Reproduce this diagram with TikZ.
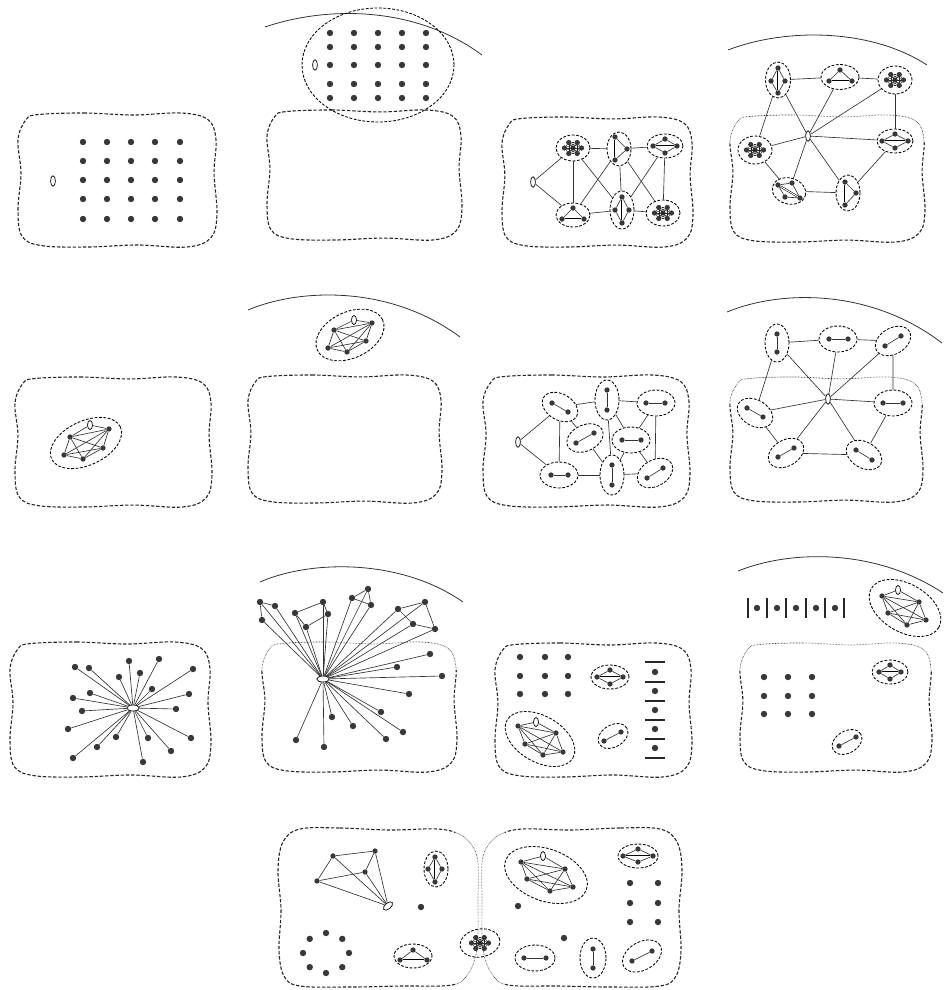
\documentclass[tikz,border=0pt]{standalone}
\usetikzlibrary{shapes.geometric}
\tikzset{
 dot/.style={circle, fill=black!78, inner sep=0pt, minimum size=6.4pt},
 tdot/.style={circle, fill=black!78, inner sep=0pt, minimum size=5.3pt},
 ov/.style={ellipse, draw, line width=0.7pt, fill=white, inner sep=0pt, minimum width=4.8pt, minimum height=10.5pt},
 ovs/.style={ellipse, draw, line width=0.7pt, fill=white, inner sep=0pt, minimum width=5pt, minimum height=9pt},
 ovh/.style={ellipse, draw, line width=0.7pt, fill=white, inner sep=0pt, minimum width=12.5pt, minimum height=6pt},
 grp/.style={ellipse, draw, dash pattern=on 2.8pt off 1.6pt, line width=0.85pt, inner sep=0pt},
 blobline/.style={line width=1.1pt, black!85, dash pattern=on 3.4pt off 1.8pt},
 dotline/.style={line width=0.7pt, black!75, dash pattern=on 0.6pt off 0.9pt},
 arcline/.style={line width=0.8pt, black!80},
 ed/.style={line width=0.65pt, black!80},
 ted/.style={line width=0.45pt, black!85},
 dbl/.style={line width=0.55pt, double=white, double distance=0.9pt},
 hbar/.style={rectangle, fill=black!85, inner sep=0pt, minimum width=20pt, minimum height=2.6pt},
 vbar/.style={rectangle, fill=black!85, inner sep=0pt, minimum width=2.6pt, minimum height=20pt},
}
\newcommand\blobdraw[5]{%
\pgfmathsetmacro\bx{#1}\pgfmathsetmacro\by{#2}\pgfmathsetmacro\bw{#3-#1}\pgfmathsetmacro\bh{#4-#2}%
\draw[#5] plot[smooth cycle, tension=0.6] coordinates {
({\bx+0.10*\bw},{\by+0.012*\bh}) ({\bx+0.33*\bw},{\by}) ({\bx+0.58*\bw},{\by+0.015*\bh}) ({\bx+0.82*\bw},{\by})
({\bx+0.955*\bw},{\by+0.05*\bh}) ({\bx+0.995*\bw},{\by+0.2*\bh}) ({\bx+0.985*\bw},{\by+0.45*\bh}) ({\bx+\bw},{\by+0.75*\bh})
({\bx+0.97*\bw},{\by+0.93*\bh}) ({\bx+0.85*\bw},{\by+\bh}) ({\bx+0.6*\bw},{\by+0.985*\bh}) ({\bx+0.35*\bw},{\by+\bh})
({\bx+0.12*\bw},{\by+0.99*\bh}) ({\bx+0.02*\bw},{\by+0.92*\bh}) ({\bx},{\by+0.72*\bh}) ({\bx+0.015*\bw},{\by+0.45*\bh})
({\bx},{\by+0.2*\bh}) ({\bx+0.04*\bw},{\by+0.05*\bh})};}
\newcommand\blobtop[4]{%
\pgfmathsetmacro\cy{#2+0.22*(#4-#2)}%
\begin{scope}\clip (#1-12,#2-12) rectangle (#3+12,\cy); \blobdraw{#1}{#2}{#3}{#4}{dotline}\end{scope}%
\begin{scope}\clip (#1-12,\cy) rectangle (#3+12,#4+12); \blobdraw{#1}{#2}{#3}{#4}{blobline}\end{scope}}
\newcommand\densegrp[6]{%
\node[grp, minimum width=#4pt, minimum height=#5pt, rotate=#6] (#1) at (#2,#3) {};
\node[tdot] (#1c) at (#2,#3) {};
\foreach \k in {0,...,5}{\node[tdot] (#1\k) at ({#2+8.5*cos(60*\k)},{#3+6.3*sin(60*\k)}) {};}
\foreach \k in {0,...,5}{\draw[ted] (#1c)--(#1\k);}
\foreach \i in {0,...,4}{\pgfmathtruncatemacro\s{\i+1}\foreach \j in {\s,...,5}{\draw[ted] (#1\i)--(#1\j);}}}
\newcommand\kgr[7]{%
\node[tdot] (#11) at #2 {};\node[tdot] (#12) at #3 {};\node[tdot] (#13) at #4 {};
\node[tdot] (#14) at #5 {};\node[tdot] (#15) at #6 {};\node[ovs] (#1o) at #7 {};
\foreach \i in {1,...,4}{\pgfmathtruncatemacro\s{\i+1}\foreach \j in {\s,...,5}{\draw[ed] (#1\i)--(#1\j);}}
\draw[ed] (#11)--(#1o)--(#15);}
\begin{document}
\begin{tikzpicture}[x=1pt,y=-1pt]
\useasboundingbox (0,0) rectangle (943,990);
% ---------- Panel 1
\blobdraw{18}{113}{217}{247}{blobline}
\foreach \x [count=\i] in {83,107,131,155,180}{\foreach \y [count=\j] in {142,161,180,199,219}{\node[dot] (p1d\i\j) at (\x,\y) {};}}
\node[ov] (p1o) at (53,181) {};
% ---------- Panel 2
\draw[arcline] (265,27) .. controls (330,5) and (417,7) .. (482,55);
\blobdraw{267}{110}{462}{240}{blobline}
\node[grp, minimum width=152pt, minimum height=114pt] (p2g) at (378,65) {};
\foreach \x [count=\i] in {330,354,378,402,426}{\foreach \y [count=\j] in {33,47,65,84,98}{\node[dot] (p2d\i\j) at (\x,\y) {};}}
\node[ov] (p2o) at (315,65) {};
% ---------- Panel 3
\blobdraw{502}{117}{693}{247}{blobline}
\node[ov] (p3o) at (533,182) {};
\densegrp{p3A}{573}{148}{34}{26}{0}
\node[grp, minimum width=24pt, minimum height=34pt] (p3B) at (619,149) {};
\node[tdot] (p3B1) at (615,137) {};\node[tdot] (p3B2) at (615,160) {};\node[tdot] (p3B3) at (627,149) {};
\draw[dbl] (p3B1)--(p3B2);\draw[ed] (p3B1)--(p3B3)--(p3B2);
\node[grp, minimum width=36pt, minimum height=24pt] (p3C) at (665,146) {};
\node[tdot] (p3C1) at (653,146) {};\node[tdot] (p3C2) at (677,146) {};\node[tdot] (p3C3) at (665,139) {};\node[tdot] (p3C4) at (665,153) {};
\draw[dbl] (p3C1)--(p3C2);\draw[ed] (p3C1)--(p3C3)--(p3C2)--(p3C4)--(p3C1);
\node[grp, minimum width=34pt, minimum height=24pt] (p3D) at (573,215) {};
\node[tdot] (p3D1) at (573,208) {};\node[tdot] (p3D2) at (562,219) {};\node[tdot] (p3D3) at (584,219) {};
\draw[dbl] (p3D2)--(p3D3);\draw[ed] (p3D2)--(p3D1)--(p3D3);
\node[grp, minimum width=24pt, minimum height=38pt] (p3E) at (622,210) {};
\node[tdot] (p3E1) at (622,197) {};\node[tdot] (p3E2) at (622,223) {};\node[tdot] (p3E3) at (615,210) {};\node[tdot] (p3E4) at (629,210) {};
\draw[dbl] (p3E1)--(p3E2);\draw[ed] (p3E1)--(p3E3)--(p3E2)--(p3E4)--(p3E1);
\densegrp{p3F}{663}{213}{34}{26}{0}
\foreach \a/\b in {p3o/p3A,p3o/p3D,p3A/p3B,p3B/p3C,p3A/p3D,p3A/p3E,p3B/p3D,p3B/p3E,p3B/p3F,p3C/p3E,p3C/p3F,p3D/p3E,p3E/p3F}{\draw[ed] (\a)--(\b);}
% ---------- Panel 4
\draw[arcline] (728,50) .. controls (785,28) and (870,28) .. (927,65);
\blobtop{730}{115}{925}{242}
\node[ov] (p4o) at (808,136) {};
\node[grp, minimum width=25pt, minimum height=36pt] (p4TL) at (778,80) {};
\node[tdot] (p4TL1) at (778,68) {};\node[tdot] (p4TL2) at (778,93) {};\node[tdot] (p4TL3) at (771,81) {};\node[tdot] (p4TL4) at (785,81) {};
\draw[dbl] (p4TL1)--(p4TL2);\draw[ed] (p4TL1)--(p4TL3)--(p4TL2)--(p4TL4)--(p4TL1);
\node[grp, minimum width=38pt, minimum height=25pt] (p4TM) at (840,77) {};
\node[tdot] (p4TM1) at (840,70) {};\node[tdot] (p4TM2) at (829,81) {};\node[tdot] (p4TM3) at (852,81) {};
\draw[dbl] (p4TM2)--(p4TM3);\draw[ed] (p4TM2)--(p4TM1)--(p4TM3);
\densegrp{p4TR}{895}{80}{34}{28}{0}
\node[grp, minimum width=36pt, minimum height=24pt] (p4RM) at (895,141) {};
\node[tdot] (p4RM1) at (882,141) {};\node[tdot] (p4RM2) at (908,141) {};\node[tdot] (p4RM3) at (895,134) {};\node[tdot] (p4RM4) at (895,148) {};
\draw[dbl] (p4RM1)--(p4RM2);\draw[ed] (p4RM1)--(p4RM3)--(p4RM2)--(p4RM4)--(p4RM1);
\densegrp{p4LM}{755}{150}{34}{28}{0}
\node[grp, minimum width=34pt, minimum height=26pt, rotate=-15] (p4BL) at (789,191) {};
\node[tdot] (p4BL1) at (778,185) {};\node[tdot] (p4BL2) at (792,183) {};\node[tdot] (p4BL3) at (785,197) {};\node[tdot] (p4BL4) at (800,198) {};
\draw[dbl] (p4BL1)--(p4BL4);\draw[ed] (p4BL1)--(p4BL2)--(p4BL4)--(p4BL3)--(p4BL1);
\node[grp, minimum width=24pt, minimum height=36pt] (p4BR) at (848,193) {};
\node[tdot] (p4BR1) at (845,182) {};\node[tdot] (p4BR2) at (845,205) {};\node[tdot] (p4BR3) at (856,193) {};
\draw[dbl] (p4BR1)--(p4BR2);\draw[ed] (p4BR1)--(p4BR3)--(p4BR2);
\foreach \c in {p4TL,p4TM,p4TR,p4RM,p4BR,p4BL,p4LM}{\draw[ed] (p4o)--(\c);}
\foreach \a/\b in {p4TL/p4TM,p4TM/p4TR,p4TR/p4RM,p4RM/p4BR,p4BR/p4BL,p4BL/p4LM,p4LM/p4TL}{\draw[ed] (\a)--(\b);}
% ---------- Panel 5
\blobdraw{15}{377}{212}{507}{blobline}
\node[grp, minimum width=76pt, minimum height=44pt, rotate=25] (p5g) at (86,443) {};
\kgr{p5k}{(70,437)}{(64,455)}{(83,459)}{(103,448)}{(109,429)}{(90,425)}
% ---------- Panel 6
\draw[arcline] (248,310) .. controls (300,288) and (390,285) .. (460,337);
\blobdraw{248}{375}{442}{503}{blobline}
\node[grp, minimum width=72pt, minimum height=46pt, rotate=25] (p6g) at (350,335) {};
\kgr{p6k}{(334,330)}{(328,348)}{(347,352)}{(366,341)}{(372,323)}{(354,320)}
% ---------- Panel 7
\blobdraw{483}{375}{690}{507}{blobline}
\node[ov] (p7o) at (518,442) {};
\node[grp, minimum width=38pt, minimum height=26pt, rotate=-30] (p7a) at (560,407) {};
\node[tdot] (p7a1) at (552,403) {};\node[tdot] (p7a2) at (568,412) {};
\node[grp, minimum width=24pt, minimum height=40pt] (p7b) at (607,400) {};
\node[tdot] (p7b1) at (607,390) {};\node[tdot] (p7b2) at (607,410) {};
\node[grp, minimum width=38pt, minimum height=26pt] (p7c) at (656,403) {};
\node[tdot] (p7c1) at (646,403) {};\node[tdot] (p7c2) at (665,403) {};
\node[grp, minimum width=38pt, minimum height=26pt, rotate=25] (p7d) at (585,438) {};
\node[tdot] (p7d1) at (576,443) {};\node[tdot] (p7d2) at (594,433) {};
\node[grp, minimum width=38pt, minimum height=26pt] (p7e) at (631,440) {};
\node[tdot] (p7e1) at (622,440) {};\node[tdot] (p7e2) at (641,440) {};
\node[grp, minimum width=38pt, minimum height=26pt] (p7f) at (559,475) {};
\node[tdot] (p7f1) at (551,475) {};\node[tdot] (p7f2) at (568,475) {};
\node[grp, minimum width=24pt, minimum height=40pt] (p7g) at (612,475) {};
\node[tdot] (p7g1) at (612,465) {};\node[tdot] (p7g2) at (612,485) {};
\node[grp, minimum width=38pt, minimum height=26pt, rotate=30] (p7h) at (655,473) {};
\node[tdot] (p7h1) at (647,478) {};\node[tdot] (p7h2) at (663,468) {};
\foreach \c in {a,b,c,d,e,f,g,h}{\draw[ed] (p7\c1)--(p7\c2);}
\foreach \a/\b in {o/a,o/f,a/b,a/f,a/d,b/c,b/g,b/e,c/e,c/h,d/g,e/g,e/h,f/g,g/h}{\draw[ed] (p7\a)--(p7\b);}
% ---------- Panel 8
\draw[arcline] (727,312) .. controls (780,290) and (870,288) .. (942,343);
\blobtop{730}{377}{923}{502}
\node[ov] (p8o) at (828,399) {};
\node[grp, minimum width=24pt, minimum height=38pt] (p8TL) at (777,343) {};
\node[tdot] (p8TL1) at (777,334) {};\node[tdot] (p8TL2) at (777,352) {};
\node[grp, minimum width=38pt, minimum height=26pt] (p8TM) at (838,339) {};
\node[tdot] (p8TM1) at (829,339) {};\node[tdot] (p8TM2) at (848,339) {};
\node[grp, minimum width=38pt, minimum height=26pt, rotate=30] (p8TR) at (893,341) {};
\node[tdot] (p8TR1) at (885,346) {};\node[tdot] (p8TR2) at (901,336) {};
\node[grp, minimum width=38pt, minimum height=26pt] (p8RM) at (893,403) {};
\node[tdot] (p8RM1) at (883,403) {};\node[tdot] (p8RM2) at (903,403) {};
\node[grp, minimum width=38pt, minimum height=26pt, rotate=-30] (p8LM) at (755,413) {};
\node[tdot] (p8LM1) at (747,408) {};\node[tdot] (p8LM2) at (763,417) {};
\node[grp, minimum width=38pt, minimum height=26pt, rotate=30] (p8BL) at (786,453) {};
\node[tdot] (p8BL1) at (778,457) {};\node[tdot] (p8BL2) at (794,448) {};
\node[grp, minimum width=38pt, minimum height=26pt, rotate=-30] (p8BR) at (864,455) {};
\node[tdot] (p8BR1) at (856,450) {};\node[tdot] (p8BR2) at (872,460) {};
\foreach \c in {TL,TM,TR,RM,LM,BL,BR}{\draw[ed] (p8\c1)--(p8\c2);\draw[ed] (p8o)--(p8\c);}
\foreach \a/\b in {TL/TM,TM/TR,TR/RM,RM/BR,BR/BL,BL/LM,LM/TL}{\draw[ed] (p8\a)--(p8\b);}
% ---------- Panel 9
\blobdraw{10}{642}{211}{777}{blobline}
\node[ovh] (p9o) at (133,708) {};
\foreach \p [count=\i] in {(75,667),(89,668),(129,661),(159,659),(193,669),(119,677),(140,673),(152,689),(73,698),(90,693),(189,694),(82,711),(176,709),(68,729),(191,738),(116,737),(148,738),(97,747),(171,751),(73,758),(143,762)}{\node[dot] (p9n\i) at \p {};}
\foreach \i in {1,...,21}{\draw[ed] (p9o)--(p9n\i);}
% ---------- Panel 10
\draw[arcline] (260,582) .. controls (310,560) and (400,558) .. (463,602);
\blobtop{262}{642}{457}{772}
\node[ovh] (p10o) at (323,679) {};
\node[dot] (p10a1) at (260,602) {};\node[dot] (p10a2) at (275,606) {};\node[dot] (p10a3) at (262,620) {};
\node[dot] (p10b1) at (295,613) {};\node[dot] (p10b2) at (323,602) {};\node[dot] (p10b3) at (328,614) {};\node[dot] (p10b4) at (306,627) {};
\node[dot] (p10c1) at (352,598) {};\node[dot] (p10c2) at (368,589) {};\node[dot] (p10c3) at (371,605) {};
\node[dot] (p10d1) at (398,609) {};\node[dot] (p10d2) at (425,602) {};\node[dot] (p10d3) at (435,629) {};\node[dot] (p10d4) at (413,624) {};
\draw[ed] (p10a2)--(p10a1)--(p10a3);
\draw[ed] (p10b1)--(p10b2)--(p10b3)--(p10b4)--(p10b1);
\draw[ed] (p10c1)--(p10c2)--(p10c3)--(p10c1);
\draw[ed] (p10d1)--(p10d2)--(p10d3)--(p10d4)--(p10d1);
\foreach \p [count=\i] in {(430,654),(397,667),(442,676),(409,694),(381,712),(403,732),(386,739),(353,726),(332,717),(296,740),(324,747)}{\node[dot] (p10n\i) at \p {};}
\foreach \n in {a1,a2,a3,b1,b2,b3,b4,c1,c2,c3,d1,d2,d3,d4,n1,n2,n3,n4,n5,n6,n7,n8,n9,n10,n11}{\draw[ed] (p10o)--(p10\n);}
% ---------- Panel 11
\blobdraw{495}{643}{692}{777}{blobline}
\foreach \x [count=\i] in {520,545,568}{\foreach \y [count=\j] in {657,676,694}{\node[dot] (p11d\i\j) at (\x,\y) {};}}
\node[grp, minimum width=38pt, minimum height=24pt] (p11K) at (610,677) {};
\node[tdot] (p11K1) at (597,677) {};\node[tdot] (p11K2) at (623,677) {};\node[tdot] (p11K3) at (610,670) {};\node[tdot] (p11K4) at (610,684) {};
\draw[dbl] (p11K1)--(p11K2);\draw[ed] (p11K1)--(p11K3)--(p11K2)--(p11K4)--(p11K1);
\foreach \y [count=\i] in {662,682,701,720,739,758}{\node[hbar] (p11b\i) at (655,\y) {};}
\foreach \y [count=\i] in {672,691,710,729,748}{\node[dot] (p11s\i) at (655,\y) {};}
\node[grp, minimum width=76pt, minimum height=46pt, rotate=-30] (p11g) at (540,739) {};
\kgr{p11k}{(518,726)}{(525,744)}{(543,755)}{(563,752)}{(556,733)}{(536,722)}
\node[grp, minimum width=32pt, minimum height=22pt, rotate=30] (p11p) at (613,736) {};
\node[tdot] (p11p1) at (604,741) {};\node[tdot] (p11p2) at (621,732) {};
\draw[ed] (p11p1)--(p11p2);
% ---------- Panel 12
\draw[arcline] (738,571) .. controls (790,550) and (875,548) .. (943,593);
\foreach \x [count=\i] in {748,767,786,806,825,844}{\node[vbar] (p12v\i) at (\x,608) {};}
\foreach \x [count=\i] in {757,777,796,816,835}{\node[dot] (p12s\i) at (\x,608) {};}
\node[grp, minimum width=78pt, minimum height=48pt, rotate=-30] (p12g) at (905,608) {};
\kgr{p12k}{(882,596)}{(888,613)}{(907,625)}{(926,620)}{(919,602)}{(898,590)}
\blobtop{740}{643}{932}{772}
\node[grp, minimum width=36pt, minimum height=24pt] (p12K) at (890,672) {};
\node[tdot] (p12K1) at (879,672) {};\node[tdot] (p12K2) at (901,672) {};\node[tdot] (p12K3) at (890,665) {};\node[tdot] (p12K4) at (890,679) {};
\draw[dbl] (p12K1)--(p12K2);\draw[ed] (p12K1)--(p12K3)--(p12K2)--(p12K4)--(p12K1);
\foreach \x [count=\i] in {764,788,812}{\foreach \y [count=\j] in {677,696,714}{\node[dot] (p12d\i\j) at (\x,\y) {};}}
\node[grp, minimum width=32pt, minimum height=22pt, rotate=30] (p12p) at (847,742) {};
\node[tdot] (p12p1) at (839,746) {};\node[tdot] (p12p2) at (856,737) {};
\draw[ed] (p12p1)--(p12p2);
% ---------- Row 4: two joined blobs
\foreach \m in {1,-1}{
\begin{scope}[shift={(480,0)}, xscale=\m, shift={(-480,0)}]
\begin{scope}\clip (260,815) rectangle (455,995);
\draw[blobline] plot[smooth cycle, tension=0.6] coordinates {(300,829) (340,828) (390,830) (438,829) (461,835) (473,847) (478,863) (478,900) (478,932) (476,955) (468,974) (452,985) (400,986) (350,987) (300,986) (284,976) (279,950) (281,910) (278,870) (283,842)};
\end{scope}
\begin{scope}\clip (455,815) rectangle (480,995);
\draw[dotline] plot[smooth cycle, tension=0.6] coordinates {(300,829) (340,828) (390,830) (438,829) (461,835) (473,847) (478,863) (478,900) (478,932) (476,955) (468,974) (452,985) (400,986) (350,987) (300,986) (284,976) (279,950) (281,910) (278,870) (283,842)};
\end{scope}
\end{scope}}
% left contents
\node[tdot] (r4q1) at (333,856) {};\node[tdot] (r4q2) at (375,851) {};\node[tdot] (r4q3) at (365,872) {};\node[tdot] (r4q4) at (317,881) {};
\node[ellipse, draw, line width=0.7pt, fill=white, inner sep=0pt, minimum width=6pt, minimum height=11pt, rotate=-50] (r4o) at (388,906) {};
\draw[ed] (r4q1)--(r4q2)--(r4q3)--(r4q4)--(r4q1);
\draw[ed] (r4q1)--(r4o);\draw[ed] (r4q2)--(r4o);\draw[ed] (r4q4)--(r4o);\draw[ed] (r4q3)--(r4o);
\node[grp, minimum width=24pt, minimum height=36pt] (r4K) at (436,869) {};
\node[tdot] (r4K1) at (435,857) {};\node[tdot] (r4K2) at (435,882) {};\node[tdot] (r4K3) at (428,869) {};\node[tdot] (r4K4) at (442,869) {};
\draw[dbl] (r4K1)--(r4K2);\draw[ed] (r4K1)--(r4K3)--(r4K2)--(r4K4)--(r4K1);
\node[dot] (r4s1) at (421,907) {};
\foreach \a [count=\i] in {90,45,0,-45,-90,-135,180,135}{\node[dot] (r4r\i) at ({326+23*cos(\a)},{953-20*sin(\a)}) {};}
\node[grp, minimum width=38pt, minimum height=24pt] (r4T) at (413,956) {};
\node[tdot] (r4T1) at (413,950) {};\node[tdot] (r4T2) at (400,960) {};\node[tdot] (r4T3) at (427,960) {};
\draw[dbl] (r4T2)--(r4T3);\draw[ed] (r4T2)--(r4T1)--(r4T3);
\densegrp{r4N}{480}{943}{40}{28}{10}
% right contents
\node[grp, minimum width=86pt, minimum height=52pt, rotate=-20] (r4g) at (546,875) {};
\kgr{r4k}{(521,862)}{(527,879)}{(550,891)}{(573,887)}{(565,869)}{(543,856)}
\node[grp, minimum width=40pt, minimum height=24pt] (r4L) at (638,856) {};
\node[tdot] (r4L1) at (623,856) {};\node[tdot] (r4L2) at (653,856) {};\node[tdot] (r4L3) at (638,849) {};\node[tdot] (r4L4) at (638,862) {};
\draw[dbl] (r4L1)--(r4L2);\draw[ed] (r4L1)--(r4L3)--(r4L2)--(r4L4)--(r4L1);
\foreach \x [count=\i] in {630,658}{\foreach \y [count=\j] in {883,903,922}{\node[dot] (r4d\i\j) at (\x,\y) {};}}
\node[dot] (r4s2) at (518,906) {};
\node[dot] (r4s3) at (564,938) {};
\node[grp, minimum width=40pt, minimum height=26pt] (r4h) at (535,958) {};
\node[tdot] (r4h1) at (524,958) {};\node[tdot] (r4h2) at (546,958) {};
\draw[ed] (r4h1)--(r4h2);
\node[grp, minimum width=26pt, minimum height=40pt] (r4v) at (593,958) {};
\node[tdot] (r4v1) at (593,949) {};\node[tdot] (r4v2) at (593,968) {};
\draw[ed] (r4v1)--(r4v2);
\node[grp, minimum width=42pt, minimum height=28pt, rotate=30] (r4t) at (642,956) {};
\node[tdot] (r4t1) at (632,961) {};\node[tdot] (r4t2) at (652,951) {};
\draw[ed] (r4t1)--(r4t2);
\end{tikzpicture}
\end{document}
